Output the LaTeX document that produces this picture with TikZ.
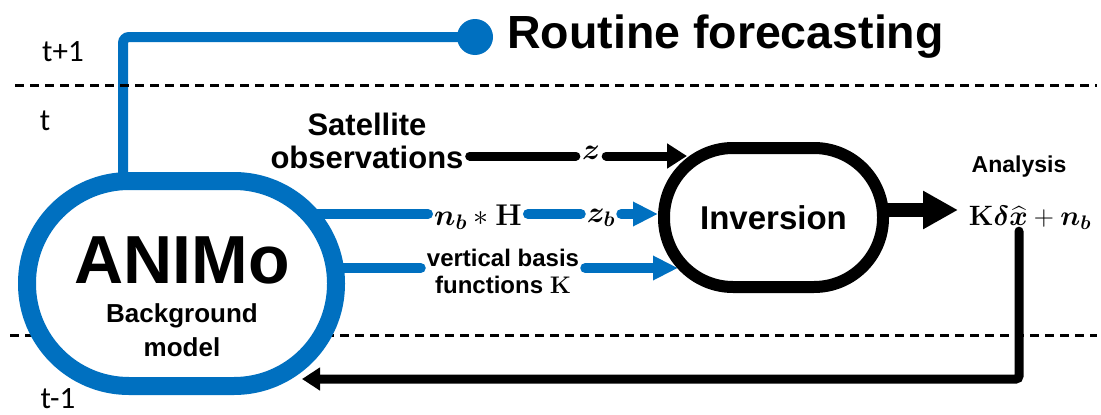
\RequirePackage{fix-cm}
\documentclass[tikz,border=0pt]{standalone}
\usepackage{amsmath,bm}
\usepackage[no-math]{fontspec}
\setmainfont{Liberation Sans}
\newfontfamily\calfont{Carlito}
\usetikzlibrary{arrows.meta}
\definecolor{oblue}{HTML}{0070C0}
\pgfdeclarelayer{bg}
\pgfsetlayers{bg,main}
\begin{document}
\begin{tikzpicture}[x=1pt,y=-1pt,
  dashline/.style={line width=3pt,dash pattern=on 9pt off 6pt},
  bline/.style={draw=oblue,line width=10pt,line cap=round},
  kline/.style={draw=black,line width=9pt,line cap=round},
  lbl/.style={inner sep=6pt,font=\fontsize{30}{32}\selectfont},
  tlab/.style={font=\calfont\fontsize{31}{33}\selectfont,inner sep=0pt},
  animo/.style={draw=oblue,fill=white,line width=18pt,rounded corners=102pt,
    minimum width=309pt,minimum height=205pt,inner sep=0pt},
  invbox/.style={draw=black,fill=white,line width=12pt,rounded corners=69pt,
    minimum width=219pt,minimum height=139pt,inner sep=0pt,
    font=\fontsize{33}{36}\selectfont\bfseries},
  ktip/.style={-{Triangle[length=20pt,width=24pt]}},
  btip/.style={-{Triangle[length=25pt,width=23pt]}}
]
\useasboundingbox (0,0) rectangle (1101,415);

% coordinates
\coordinate (d1a) at (15,85);  \coordinate (d1b) at (1097,85);
\coordinate (d2a) at (10,335); \coordinate (d2b) at (1097,335);
\coordinate (vx) at (123,0);
\coordinate (rv) at (1019,0);
\coordinate (L1) at (0,156);
\coordinate (L2) at (0,214);
\coordinate (L3) at (0,268);
\coordinate (tz) at (687,156);
\coordinate (tzb) at (658,214);
\coordinate (tv) at (678,268);
\coordinate (tout) at (958,210);
\coordinate (tret) at (302,379);

% nodes
\node[animo] (A) at (181.5,283.5) {};
\node[font=\fontsize{68}{72}\selectfont\bfseries,inner sep=0pt] (an) at (182,260) {ANIMo};
\node[font=\fontsize{26}{30}\selectfont\bfseries,inner sep=0pt] (bg) at (182,316) {Background};
\node[font=\fontsize{26}{30}\selectfont\bfseries,inner sep=0pt] (md) at (182,347) {model};

\node[invbox] (I) at (773.5,217.5) {Inversion};

\node[circle,fill=oblue,minimum size=36pt,inner sep=0pt] (dot) at (475,37) {};
\node[anchor=west,inner sep=0pt,font=\fontsize{46.5}{50}\selectfont\bfseries] (rf) at (507,37) {Routine forecasting};

\node[align=center,inner sep=6pt,font=\fontsize{31}{33}\selectfont\bfseries] (sat) at (367,141) {Satellite\\observations};
\node[lbl] (z) at (591,153) {$\bm{z}$};
\node[lbl] (nbH) at (478,217) {$\bm{n}_{\bm{b}}\ast\mathbf{H}$};
\node[lbl] (zb) at (601,218) {$\bm{z}_{\bm{b}}$};
\node[align=center,inner sep=6pt,font=\fontsize{24}{27}\selectfont\bfseries] (vbf) at (503,271) {vertical basis\\functions $\mathbf{K}$};

\node[font=\fontsize{23}{26}\selectfont\bfseries,inner sep=0pt] (anl) at (1019,167) {Analysis};
\node[inner sep=1pt,font=\fontsize{28}{30}\selectfont] (ana) at (1030,218) {$\mathbf{K}\bm{\delta}\widehat{\bm{x}}+\bm{n}_{\bm{b}}$};

\node[tlab] (t1) at (63,52) {t+1};
\node[tlab] (t0) at (45,121) {t};
\node[tlab] (tm) at (58,399) {t-1};

% connectors
\begin{pgfonlayer}{bg}
\draw[dashline] (d2a) -- (d2b);
\draw[bline,line cap=butt,rounded corners=6pt] (A.center -| vx) |- (dot.center);
\draw[kline] (sat.east |- L1) -- (z.west |- L1);
\draw[kline,ktip] (z.east |- L1) -- (tz);
\draw[bline] (A.center |- L2) -- (nbH.west |- L2);
\draw[bline] (nbH.east |- L2) -- (zb.west |- L2);
\draw[bline,btip] (zb.east |- L2) -- (tzb);
\draw[bline] (A.center |- L3) -- (vbf.west |- L3);
\draw[bline,btip] (vbf.east |- L3) -- (tv);
\draw[kline,line width=14pt,line cap=butt,-{Triangle[length=35pt,width=36pt]}] (I.center |- tout) -- (tout);
\draw[kline,rounded corners=3pt,-{Triangle[length=18pt,width=22pt]}] (ana.south -| rv) |- (tret);
\end{pgfonlayer}
\draw[dashline] (d1a) -- (d1b);
\end{tikzpicture}
\end{document}
